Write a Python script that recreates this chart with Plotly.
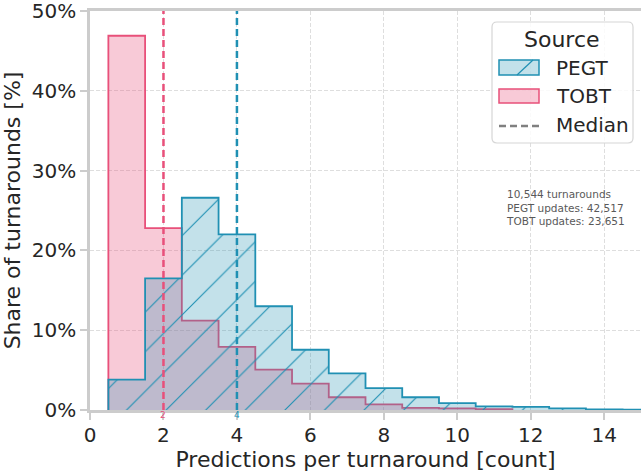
import plotly.graph_objects as go

# Share of turnarounds per prediction count (bins centred on 1, 2, 3, ...)
pegt_share = [3.8, 16.5, 26.6, 22.0, 13.0, 7.55, 4.6, 2.75, 1.6, 0.85, 0.45, 0.4, 0.2, 0.08, 0.04, 0.02]
tobt_share = [46.9, 22.8, 11.2, 7.9, 5.05, 3.3, 1.6, 0.7, 0.27, 0.2, 0.1]
first_bin = 1

pegt_median = 4
tobt_median = 2

stats_lines = ["10,544 turnarounds", "PEGT updates: 42,517", "TOBT updates: 23,651"]
x_tick_vals = [0, 2, 4, 6, 8, 10, 12, 14]
y_tick_vals = [0, 10, 20, 30, 40, 50]
y_tick_text = [f"{v}%" for v in y_tick_vals]
legend_title = "Source"
legend_labels = ["PEGT", "TOBT", "Median"]

PEGT_LINE = "#2090b3"
PEGT_FILL = "rgba(32,144,179,0.27)"
TOBT_LINE = "#e8507a"
TOBT_FILL = "rgba(232,80,122,0.3)"
TEXT = "#262626"
SPINE = "#cccccc"
FONT = "DejaVu Sans"

W, H = 641, 473
ML, MR, MT, MB = 90, 0, 11, 63


def step_xy(values, start):
    """Outline of a step histogram with unit-width bins centred on integers."""
    edges = [start - 0.5 + i for i in range(len(values) + 1)]
    xs = [edges[0]] + edges[:-1] + [edges[-1]]
    ys = [0] + list(values) + [0]
    return xs, ys


def px(x):
    return (x - ML) / (W - ML - MR)


def py(y):
    return (H - MB - y) / (H - MT - MB)


fig = go.Figure()

tx, ty = step_xy(tobt_share, first_bin)
fig.add_trace(go.Scatter(
    x=tx, y=ty, mode="lines", name="TOBT",
    line=dict(color=TOBT_LINE, width=1.8, shape="hv"),
    fill="tozeroy", fillcolor=TOBT_FILL,
    showlegend=False, hoverinfo="skip",
))

gx, gy = step_xy(pegt_share, first_bin)
fig.add_trace(go.Scatter(
    x=gx, y=gy, mode="lines", name="PEGT",
    line=dict(color=PEGT_LINE, width=1.8, shape="hv"),
    fill="tozeroy", fillcolor=PEGT_FILL,
    fillpattern=dict(shape="/", size=28, solidity=0.04,
                     fgcolor=PEGT_LINE, bgcolor=PEGT_FILL, fgopacity=1),
    showlegend=False, hoverinfo="skip",
))

# median markers
for m, col in [(tobt_median, TOBT_LINE), (pegt_median, PEGT_LINE)]:
    fig.add_shape(type="line", xref="x", yref="paper", x0=m, x1=m, y0=0, y1=1,
                  line=dict(color=col, width=2.5, dash="7px,4px"))
    fig.add_annotation(x=m, xref="x", y=0, yref="paper", yanchor="top", yshift=1,
                       borderpad=0, text=str(m), showarrow=False,
                       font=dict(family=FONT, size=9, color=col))

# summary text
fig.add_annotation(x=px(504), y=py(207.5), xref="paper", yref="paper",
                   xanchor="left", yanchor="middle", align="left",
                   text="<br>".join(stats_lines), showarrow=False,
                   font=dict(family=FONT, size=10.5, color="#595959"))

# legend box
L, R, T, B, r = 492, 633, 22, 143, 5
frame = (f"M{px(L + r)},{py(T)} L{px(R - r)},{py(T)} Q{px(R)},{py(T)} {px(R)},{py(T + r)} "
         f"L{px(R)},{py(B - r)} Q{px(R)},{py(B)} {px(R - r)},{py(B)} "
         f"L{px(L + r)},{py(B)} Q{px(L)},{py(B)} {px(L)},{py(B - r)} "
         f"L{px(L)},{py(T + r)} Q{px(L)},{py(T)} {px(L + r)},{py(T)} Z")
fig.add_shape(type="path", path=frame, xref="paper", yref="paper",
              fillcolor="rgba(255,255,255,0.85)", line=dict(color="#d6d6d6", width=1.2))
fig.add_annotation(x=px(562), y=py(39), xref="paper", yref="paper", text=legend_title,
                   showarrow=False, xanchor="center", yanchor="middle",
                   font=dict(family=FONT, size=22, color=TEXT))
fig.add_shape(type="rect", xref="paper", yref="paper", x0=px(499), x1=px(539), y0=py(75), y1=py(60),
              fillcolor=PEGT_FILL, line=dict(color=PEGT_LINE, width=1.5))
fig.add_shape(type="line", xref="paper", yref="paper", x0=px(517), x1=px(533), y0=py(75), y1=py(60),
              line=dict(color=PEGT_LINE, width=1.2))
fig.add_shape(type="rect", xref="paper", yref="paper", x0=px(499), x1=px(539), y0=py(103), y1=py(89),
              fillcolor=TOBT_FILL, line=dict(color=TOBT_LINE, width=1.5))
fig.add_shape(type="line", xref="paper", yref="paper", x0=px(499), x1=px(539), y0=py(126), y1=py(126),
              line=dict(color="#808080", width=2.5, dash="7px,4px"))
for label, yc in zip(legend_labels, [68, 96, 125]):
    fig.add_annotation(x=px(554), y=py(yc), xref="paper", yref="paper", text=label,
                       showarrow=False, xanchor="left", yanchor="middle",
                       font=dict(family=FONT, size=20, color=TEXT))

fig.update_layout(
    width=W, height=H,
    margin=dict(l=ML, r=MR, t=MT, b=MB),
    plot_bgcolor="white", paper_bgcolor="white",
    font=dict(family=FONT, color=TEXT),
    showlegend=False,
)
fig.update_xaxes(
    range=[0, 15], tickvals=x_tick_vals,
    showgrid=True, gridcolor="#dedede", gridwidth=1, griddash="4px,2px", zeroline=False,
    showline=True, linecolor=SPINE, linewidth=2.5, mirror=True,
    ticks="outside", ticklen=7, tickwidth=2, tickcolor=SPINE, ticklabelstandoff=-2,
    tickfont=dict(size=20, color=TEXT), ticklabeloverflow="allow",
    title=dict(text="Predictions per turnaround [count]", font=dict(size=22, color=TEXT), standoff=1),
)
fig.update_yaxes(
    range=[0, 50], tickvals=y_tick_vals, ticktext=y_tick_text, tickmode="array",
    showgrid=True, gridcolor="#dedede", gridwidth=1, griddash="4px,2px", zeroline=False,
    showline=True, linecolor=SPINE, linewidth=2.5, mirror=False,
    ticks="outside", ticklen=7, tickwidth=2, tickcolor=SPINE,
    tickfont=dict(size=20, color=TEXT), ticklabeloverflow="allow",
    title=dict(text="Share of turnarounds [%]", font=dict(size=22, color=TEXT), standoff=6),
)

fig.write_html("out.html")
